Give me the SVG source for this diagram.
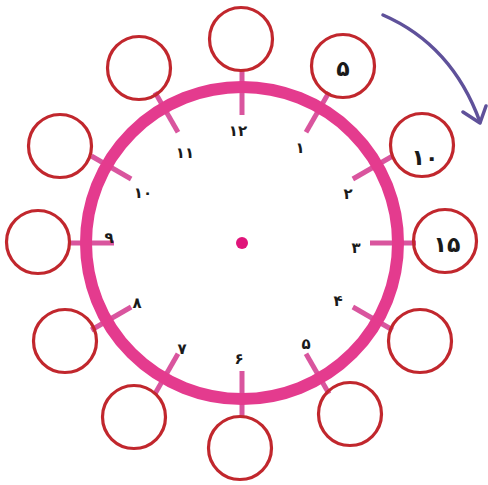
<svg xmlns="http://www.w3.org/2000/svg" width="488" height="485" viewBox="0 0 488 485">
<defs>
<style>
.slot{fill:none;stroke:#c1272d;stroke-width:3.2}
.ring{fill:none;stroke:#e43b8e;stroke-width:12}
.tick{stroke:#d9559e;stroke-width:5}
.num{font-family:"DejaVu Sans",sans-serif;font-weight:bold;font-size:15px;fill:#1a1a1a;text-anchor:middle}
.big{font-family:"DejaVu Sans",sans-serif;font-weight:bold;font-size:22px;fill:#1a1a1a;text-anchor:middle}
.arrow{fill:none;stroke:#5f519a;stroke-width:3.5;stroke-linecap:round;stroke-linejoin:round}
</style>
</defs>
<rect width="488" height="485" fill="#ffffff"/>
<g id="connectors">
<g transform="translate(242 243)">
<line class="tick" x1="0" y1="-128" x2="0" y2="-174" transform="rotate(0)"/>
<line class="tick" x1="0" y1="-128" x2="0" y2="-174" transform="rotate(30)"/>
<line class="tick" x1="0" y1="-128" x2="0" y2="-174" transform="rotate(60)"/>
<line class="tick" x1="0" y1="-128" x2="0" y2="-174" transform="rotate(90)"/>
<line class="tick" x1="0" y1="-128" x2="0" y2="-174" transform="rotate(120)"/>
<line class="tick" x1="0" y1="-128" x2="0" y2="-174" transform="rotate(150)"/>
<line class="tick" x1="0" y1="-128" x2="0" y2="-174" transform="rotate(180)"/>
<line class="tick" x1="0" y1="-128" x2="0" y2="-174" transform="rotate(210)"/>
<line class="tick" x1="0" y1="-128" x2="0" y2="-174" transform="rotate(240)"/>
<line class="tick" x1="0" y1="-128" x2="0" y2="-174" transform="rotate(270)"/>
<line class="tick" x1="0" y1="-128" x2="0" y2="-174" transform="rotate(300)"/>
<line class="tick" x1="0" y1="-128" x2="0" y2="-174" transform="rotate(330)"/>
</g>
<path class="arrow" d="M383 15 Q452 45 480 122"/>
<path class="arrow" d="M463 112 L480 123 L486 106"/>
</g>
<g id="clock">
<circle class="ring" cx="242" cy="243" r="156"/>
<circle cx="242" cy="243" r="6" fill="#e0147a"/>
<text class="num" x="238" y="136">۱۲</text>
<text class="num" x="300" y="153">۱</text>
<text class="num" x="348" y="199">۲</text>
<text class="num" x="356" y="253">۳</text>
<text class="num" x="338" y="306">۴</text>
<text class="num" x="306" y="349">۵</text>
<text class="num" x="239" y="364">۶</text>
<text class="num" x="182" y="354">۷</text>
<text class="num" x="137" y="308">۸</text>
<text class="num" x="109" y="243">۹</text>
<text class="num" x="143" y="198">۱۰</text>
<text class="num" x="185" y="158">۱۱</text>
</g>
<g id="slot-12"><circle class="slot" cx="241" cy="39" r="31.5"/></g>
<g id="slot-1"><circle class="slot" cx="343" cy="66" r="31.5"/><text class="big" x="343" y="76">۵</text></g>
<g id="slot-2"><circle class="slot" cx="422" cy="145" r="31.5"/><text class="big" x="425" y="165">۱۰</text></g>
<g id="slot-3"><circle class="slot" cx="445" cy="241" r="31.5"/><text class="big" x="447" y="252">۱۵</text></g>
<g id="slot-4"><circle class="slot" cx="420" cy="341" r="31.5"/></g>
<g id="slot-5"><circle class="slot" cx="350" cy="414" r="31.5"/></g>
<g id="slot-6"><circle class="slot" cx="240" cy="448" r="31.5"/></g>
<g id="slot-7"><circle class="slot" cx="134" cy="417" r="31.5"/></g>
<g id="slot-8"><circle class="slot" cx="65" cy="341" r="31.5"/></g>
<g id="slot-9"><circle class="slot" cx="38" cy="242" r="31.5"/></g>
<g id="slot-10"><circle class="slot" cx="60" cy="146" r="31.5"/></g>
<g id="slot-11"><circle class="slot" cx="139" cy="68" r="31.5"/></g>
</svg>
